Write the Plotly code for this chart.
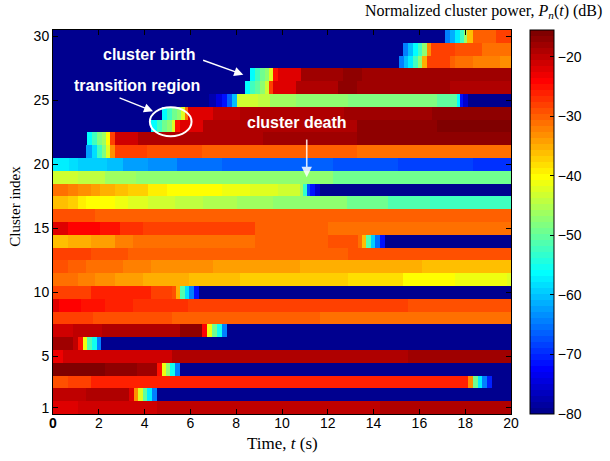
import numpy as np
import plotly.graph_objects as go

# ---- data: per cluster row, list of (segment start time [s], power [dB]) ----
row_01 = [(0, -22.4), (1.1, -21.1), (4.52, -20.3), (14.28, -19.2)]
row_02 = [(0, -20.3), (1.46, -19.3), (3.33, -22.0), (3.53, -33.0), (3.72, -42.5), (3.94, -50.0),
          (4.13, -57.0), (4.35, -63.9), (4.52, -80)]
row_03 = [(0, -29.2), (0.66, -27.6), (1.68, -26.0), (18.12, -33.2), (18.34, -49.4), (18.54, -57.4),
          (18.75, -63.9), (18.95, -70.3), (19.17, -80)]
row_04 = [(0, -15.5), (2.26, -16.8), (3.67, -17.8), (4.52, -25.2), (4.74, -41.3), (4.93, -47.75),
          (5.13, -55.8), (5.35, -63.9), (5.54, -80)]
row_05 = [(0, -22.8), (0.44, -21.1), (1.68, -20.7), (5.18, -19.5), (15.5, -18.4)]
row_06 = [(0, -18.4), (0.87, -20.3), (1.1, -25.2), (1.31, -41.3), (1.49, -51.0), (1.71, -55.8),
          (1.9, -63.9), (2.09, -80)]
row_07 = [(0, -21.1), (0.87, -20.3), (2.12, -19.5), (3.72, -18.7), (5.54, -17.4), (6.52, -24.4),
          (6.73, -41.3), (6.95, -49.4), (7.14, -55.8), (7.36, -63.9), (7.58, -80)]
row_08 = [(0, -27.6), (1.1, -28.4), (1.75, -29.2), (5.18, -30.0), (11.66, -30.8), (16.73, -31.6)]
row_09 = [(0, -21.95), (0.29, -23.6), (1.24, -24.8), (2.26, -26.0), (3.5, -27.1), (5.9, -28.1),
          (10.42, -28.4), (15.5, -29.5)]
row_10 = [(0, -28.4), (0.87, -27.6), (1.68, -26.0), (4.3, -27.6), (5.18, -29.2), (5.37, -34.85),
          (5.54, -51.0), (5.76, -58.2), (5.95, -63.9), (6.15, -71.9), (6.37, -80)]
row_11 = [(0, -31.6), (1.1, -32.4), (1.83, -33.2), (2.7, -34.0), (3.94, -34.85), (5.95, -35.7),
          (8.19, -36.7), (10.62, -37.6), (12.9, -38.6), (15.3, -39.7), (17.57, -40.8), (19.82, -42.1)]
row_12 = [(0, -29.2), (0.66, -30.0), (1.46, -30.8), (2.26, -31.6), (3.06, -32.4), (4.3, -33.2),
          (7.0, -33.7), (10.79, -34.7), (16.1, -35.7)]
row_13 = [(0, -27.6), (0.44, -28.4), (1.68, -29.2), (3.28, -30.0), (12.9, -29.0)]
row_14 = [(0, -35.7), (0.66, -34.85), (1.68, -34.0), (2.7, -32.4), (3.5, -31.6), (5.37, -30.8),
          (8.82, -30.0), (12.03, -29.2), (13.3, -31.6), (13.48, -35.7), (13.67, -51.0), (13.88, -59.0),
          (14.07, -65.5), (14.28, -71.9), (14.5, -80)]
row_15 = [(0, -21.95), (0.66, -23.6), (1.39, -24.4), (2.04, -25.5), (2.91, -26.8), (3.94, -27.6),
          (5.9, -28.4), (8.82, -30.0), (12.03, -30.8), (16.1, -31.6)]
row_16 = [(0, -29.2), (1.83, -30.0), (5.76, -30.3)]
row_17 = [(0, -36.5), (0.66, -37.3), (1.1, -38.9), (1.46, -39.7), (2.04, -40.5), (2.7, -41.3),
          (3.28, -42.1), (4.15, -43.7), (5.32, -44.5), (6.56, -45.3), (8.02, -46.1), (9.62, -46.9),
          (11.22, -47.75), (12.83, -49.4), (14.65, -51.0), (16.47, -51.8), (18.37, -52.6)]
row_18 = [(0, -30.8), (0.22, -31.6), (0.66, -32.4), (1.1, -33.2), (1.68, -34.0), (2.04, -34.85),
          (2.7, -35.7), (3.28, -37.3), (4.15, -38.9), (4.96, -39.7), (6.12, -40.5), (7.36, -41.3),
          (8.6, -42.1), (9.84, -43.7), (10.79, -46.1), (10.93, -53.0), (11.08, -67.0), (11.22, -71.9),
          (11.44, -75.2), (11.66, -80)]
row_19 = [(0, -42.9), (0.44, -43.7), (1.09, -44.5), (2.26, -46.1), (3.65, -46.9), (5.98, -47.75),
          (12.24, -49.4)]
row_20 = [(0, -57.4), (0.73, -58.2), (1.09, -59.4), (2.33, -60.6), (3.06, -62.7), (4.15, -63.5),
          (5.4, -64.9), (7.36, -65.9), (9.62, -66.7), (12.24, -67.9), (15.09, -68.9), (18.37, -69.9)]
row_21 = [(0, -80), (1.47, -62.3), (1.7, -58.2), (1.9, -52.6), (2.12, -48.0), (2.3, -42.0),
          (2.48, -33.2), (2.7, -27.6), (4.1, -29.2), (6.5, -30.0), (13.27, -30.8), (18.37, -31.6)]
row_22 = [(0, -80), (1.49, -56.5), (1.72, -52.6), (1.9, -48.5), (2.12, -46.1), (2.3, -39.7),
          (2.48, -28.4), (2.7, -21.5), (3.72, -19.5), (6.48, -19.0), (9.18, -18.2), (13.27, -17.1)]
row_23 = [(0, -80), (4.3, -56.0), (4.52, -52.6), (4.74, -49.4), (4.96, -47.0), (5.18, -42.5),
          (5.32, -25.2), (5.54, -22.4), (6.56, -18.7), (13.27, -17.1), (16.76, -15.9)]
row_24 = [(0, -80), (4.74, -56.5), (4.96, -52.6), (5.18, -49.4), (5.4, -46.9), (5.58, -42.1),
          (5.76, -31.0), (5.9, -21.7), (7.0, -19.6), (8.16, -19.0), (12.7, -17.6), (16.54, -16.6)]
row_25 = [(0, -80), (6.8, -77.0), (7.1, -74.4), (7.36, -71.9), (7.58, -66.0), (7.8, -60.0),
          (8.02, -42.9), (8.96, -44.5), (9.47, -46.1), (10.62, -47.75), (12.9, -48.6), (16.76, -50.2),
          (17.64, -56.0), (17.76, -71.9), (17.93, -75.2), (18.15, -80)]
row_26 = [(0, -80), (8.38, -56.5), (8.6, -52.6), (8.82, -50.0), (9.04, -47.5), (9.25, -42.9),
          (9.45, -28.0), (9.62, -22.0), (10.62, -19.5), (11.05, -18.7), (12.46, -17.4), (13.27, -18.2),
          (17.35, -18.9)]
row_27 = [(0, -80), (8.6, -56.5), (8.82, -52.6), (9.04, -49.4), (9.25, -46.9), (9.45, -42.1),
          (9.62, -25.2), (9.84, -22.0), (10.82, -18.2), (12.68, -16.8), (13.48, -17.6), (17.57, -18.4)]
row_28 = [(0, -80), (15.13, -63.9), (15.34, -60.6), (15.52, -57.0), (15.71, -52.6), (15.92, -47.75),
          (16.1, -34.85), (16.33, -28.4), (17.35, -30.0), (17.57, -31.6), (18.37, -32.4), (19.53, -33.2)]
row_29 = [(0, -80), (15.3, -63.9), (15.52, -60.6), (15.74, -56.5), (15.92, -52.6), (16.1, -47.75),
          (16.33, -33.2), (16.5, -27.6), (17.57, -29.2), (18.73, -30.8)]
row_30 = [(0, -80), (17.13, -64.7), (17.35, -61.5), (17.57, -57.4), (17.78, -52.6), (17.96, -46.0),
          (18.1, -35.7), (18.34, -30.0), (19.36, -27.6)]

cluster_rows = [row_01, row_02, row_03, row_04, row_05, row_06, row_07, row_08, row_09, row_10,
                row_11, row_12, row_13, row_14, row_15, row_16, row_17, row_18, row_19, row_20,
                row_21, row_22, row_23, row_24, row_25, row_26, row_27, row_28, row_29, row_30]
cluster_index = list(range(1, 31))
x_ticks = list(range(0, 21, 2))
y_ticks = [1, 5, 10, 15, 20, 25, 30]
cbar_ticks = [-80, -70, -60, -50, -40, -30, -20]
z_min, z_max = -80, -15.5
t_end, dt = 20.0, 0.02

# ---- expand segments onto a time grid ----
t_centers = np.arange(0, t_end, dt) + dt / 2
z = []
for segs in cluster_rows:
    starts = np.array([s[0] for s in segs])
    vals = np.array([s[1] for s in segs])
    idx = np.searchsorted(starts, t_centers, side="right") - 1
    z.append(vals[idx])

# ---- MATLAB jet(64), discrete ----
m = 64
n = int(np.ceil(m / 4))
u = np.concatenate([np.arange(1, n + 1) / n, np.ones(n - 1), np.arange(n, 0, -1) / n])
g = int(np.ceil(n / 2)) - (1 if m % 4 == 1 else 0) + np.arange(1, len(u) + 1)
r = g + n
b = g - n
J = np.zeros((m, 3))
for col, ind in ((0, r), (1, g), (2, b)):
    ok = (ind >= 1) & (ind <= m)
    J[ind[ok] - 1, col] = u[ok]
cscale = []
for i in range(m):
    c = "rgb(%d,%d,%d)" % tuple(int(round(v * 255)) for v in J[i])
    cscale.append([i / m, c])
    cscale.append([(i + 1) / m, c])

sans = "Liberation Sans, Arial, sans-serif"
serif = "Liberation Serif, Times New Roman, serif"

fig = go.Figure()
fig.add_trace(go.Heatmap(
    x=t_centers, y=cluster_index, z=z, zmin=z_min, zmax=z_max,
    colorscale=cscale, zsmooth=False, hoverinfo="skip",
    colorbar=dict(
        x=1.0407, xanchor="left", y=0.5, yanchor="middle", len=1.0, lenmode="fraction",
        thickness=24, thicknessmode="pixels", outlinewidth=1, outlinecolor="black",
        tickvals=cbar_ticks, ticks="inside", ticklen=4, tickcolor="black",
        tickfont=dict(family=sans, size=14, color="black"), xpad=0, ypad=0,
    ),
))

fig.update_layout(
    width=610, height=461,
    margin=dict(l=53.3, r=99.3, t=30, b=47),
    paper_bgcolor="white", plot_bgcolor="white",
    xaxis=dict(range=[0, 20], tickvals=x_ticks,
               ticktext=["<b>0</b>"] + [str(v) for v in x_ticks[1:]],
               ticks="inside", ticklen=5, tickcolor="black", mirror="ticks",
               ticklabelstandoff=-4,
               showline=True, linecolor="black", linewidth=1, showgrid=False, zeroline=False,
               tickfont=dict(family=sans, size=14, color="black")),
    yaxis=dict(range=[0.5, 30.5], tickvals=y_ticks,
               ticks="inside", ticklen=5, tickcolor="black", mirror="ticks",
               showline=True, linecolor="black", linewidth=1, showgrid=False, zeroline=False,
               tickfont=dict(family=sans, size=14, color="black")),
    showlegend=False,
)

ann_font = dict(family=sans, size=16, color="white")
annotations = [
    dict(text="Time, <i>t</i> (s)", xref="paper", yref="paper", x=0.501, y=-0.0775,
         xanchor="center", yanchor="middle",
         showarrow=False, font=dict(family=serif, size=17, color="black")),
    dict(text="Cluster index", xref="paper", yref="paper", x=-0.0837, y=0.5417, textangle=-90,
         xanchor="center", yanchor="middle",
         showarrow=False, font=dict(family=serif, size=15, color="black")),
    dict(text="Normalized cluster power, <i>P</i><sub><i>n</i></sub>(<i>t</i>) (dB)",
         xref="paper", yref="paper", x=0.9394, y=1.0469, xanchor="center", yanchor="middle",
         showarrow=False, font=dict(family=serif, size=16, color="black")),
    dict(text="<b>cluster birth</b>", xref="x", yref="y", x=4.18, y=28.6, showarrow=False,
         xanchor="center", yanchor="middle", font=ann_font),
    dict(text="<b>transition region</b>", xref="x", yref="y", x=3.65, y=26.2, showarrow=False,
         xanchor="center", yanchor="middle", font=ann_font),
    dict(text="<b>cluster death</b>", xref="x", yref="y", x=10.66, y=23.27, showarrow=False,
         xanchor="center", yanchor="middle", font=ann_font),
    # arrows
    dict(text="", xref="x", yref="y", axref="x", ayref="y", x=8.31, y=27.01, ax=6.49, ay=28.18,
         showarrow=True, arrowhead=2, arrowsize=1.3, arrowwidth=1.4, arrowcolor="white", standoff=0),
    dict(text="", xref="x", yref="y", axref="x", ayref="y", x=4.37, y=24.15, ax=2.84, ay=25.24,
         showarrow=True, arrowhead=2, arrowsize=1.3, arrowwidth=1.4, arrowcolor="white", standoff=0),
    dict(text="", xref="x", yref="y", axref="x", ayref="y", x=11.08, y=19.0, ax=11.08, ay=22.06,
         showarrow=True, arrowhead=2, arrowsize=1.3, arrowwidth=1.6, arrowcolor="rgba(255,255,255,0.85)",
         standoff=0),
]
fig.update_layout(annotations=annotations)
fig.add_shape(type="circle", xref="x", yref="y", x0=4.23, x1=6.05, y0=22.2, y1=24.46,
              line=dict(color="white", width=2))

fig.write_html("out.html")
